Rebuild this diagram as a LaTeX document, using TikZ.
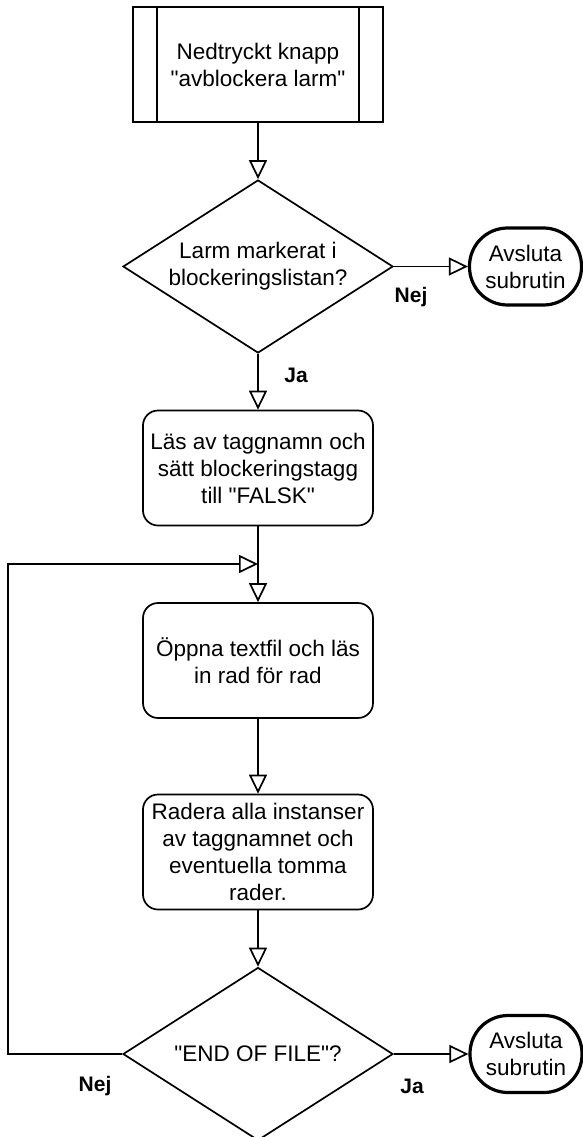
\documentclass[tikz,border=0pt]{standalone}
\usepackage{fontspec}
\setmainfont{Liberation Sans}
\usetikzlibrary{arrows.meta,shapes.geometric}
\newcommand{\dq}{\textquotedbl}
\begin{document}
\begin{tikzpicture}[x=1pt,y=-1pt,
  base/.style={draw=black,line width=1.7pt,align=center,inner sep=0pt,
    font=\fontsize{22.5}{27}\selectfont},
  procbox/.style={base,rectangle,minimum width=250pt,minimum height=115pt},
  stepbox/.style={base,rectangle,rounded corners=15pt,minimum width=230pt,minimum height=115pt},
  decision/.style={base,diamond,aspect=1.56,minimum width=270pt,minimum height=173pt},
  terminal/.style={base,rectangle,rounded corners=38pt,line width=3.2pt,
    minimum width=112pt,minimum height=77pt},
  lbl/.style={font=\fontsize{21}{25}\selectfont\bfseries,inner sep=0pt},
  arr/.style={line width=1.7pt,-{Triangle[open,length=19pt,width=18pt,line width=1.7pt]}},
  conn/.style={line width=1.7pt}]
  \useasboundingbox (0,0) rectangle (583,1137);

  % start: predefined process with side bands
  \node[procbox] (start) at (258,64.5) {Nedtryckt knapp\\\dq avblockera larm\dq};
  \draw[conn] ([xshift=25pt]start.north west) -- ([xshift=25pt]start.south west);
  \draw[conn] ([xshift=-25pt]start.north east) -- ([xshift=-25pt]start.south east);

  % first decision and its exit
  \node[decision] (d1) at (258,266.5) {Larm markerat i\\blockeringslistan?};
  \node[terminal] (end1) at (525.5,266.5) {Avsluta\\subrutin};
  \node[lbl] (nej1) at (411,297) {Nej};
  \node[lbl] (ja1) at (296,375) {Ja};

  % processing steps
  \node[stepbox] (read) at (258,468) {Läs av taggnamn och\\sätt blockeringstagg\\till \dq FALSK\dq};
  \node[stepbox] (open) at (258,660.5) {Öppna textfil och läs\\in rad för rad};
  \node[stepbox] (del) at (258,852) {Radera alla instanser\\av taggnamnet och\\eventuella tomma\\rader.};

  % end-of-file decision and its exit
  \node[decision] (d2) at (258,1054) {\dq END OF FILE\dq ?};
  \node[terminal] (end2) at (526,1054) {Avsluta\\subrutin};
  \node[lbl] (ja2) at (412,1086) {Ja};
  \node[lbl] (nej2) at (95,1086) {Nej};

  % loop-back points
  \coordinate (join) at (258,564);
  \coordinate (lb) at (8,1054);
  \coordinate (lt) at (8,564);

  % connectors
  \draw[arr] (start.south) -- (d1.north);
  \draw[arr] (d1.east) -- (end1.west);
  \draw[arr] (d1.south) -- (read.north);
  \draw[arr] (read.south) -- (open.north);
  \draw[arr] (open.south) -- (del.north);
  \draw[arr] (del.south) -- (d2.north);
  \draw[arr] (d2.east) -- (end2.west);
  \draw[arr] (d2.west) -- (lb) -- (lt) -- (join);
\end{tikzpicture}
\end{document}
